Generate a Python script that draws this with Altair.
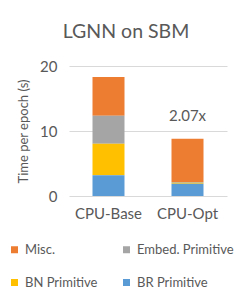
import altair as alt
import pandas as pd

configs = ["CPU-Base", "CPU-Opt"]
components = ["Misc.", "Embed. Primitive", "BN Primitive", "BR Primitive"]
colors = ["#ED7D31", "#A5A5A5", "#FFC000", "#5B9BD5"]
stack_rank = [3, 2, 1, 0]  # BR at bottom
base_values = [5.95, 4.3, 4.85, 3.2]
opt_values = [6.65, 0.15, 0.15, 1.87]
speedup_label = ["2.07x"]
speedup_pos = [12.3]

rows = []
for cfg, vals in zip(configs, [base_values, opt_values]):
    for comp, v, r in zip(components, vals, stack_rank):
        rows.append({"config": cfg, "component": comp, "time": v, "rank": r})
df = pd.DataFrame(rows)
ann = pd.DataFrame({"config": [configs[1]], "label": speedup_label, "y": speedup_pos})

FONT = "Lato"
GREY = "#595959"

bars = alt.Chart(df).mark_bar().encode(
    x=alt.X("config:N", sort=configs, title=None,
            scale=alt.Scale(paddingInner=0.595, paddingOuter=0.2975),
            axis=alt.Axis(labelAngle=0, domain=False, ticks=False, labelPadding=10,
                          labelFontSize=15, labelColor=GREY, labelFont=FONT)),
    y=alt.Y("time:Q", stack="zero", title="Time per epoch (s)",
            scale=alt.Scale(domain=[0, 20], nice=False),
            axis=alt.Axis(values=[0, 5, 10, 15, 20], domain=False, ticks=False,
                          labelPadding=12, labelFontSize=15, labelColor=GREY,
                          labelFont=FONT, gridColor="#D9D9D9", titleFont=FONT,
                          titleFontSize=13, titleColor=GREY, titleFontWeight="normal",
                          titleX=-46, titleY=65, titleBaseline="middle")),
    color=alt.Color("component:N",
                    scale=alt.Scale(domain=components, range=colors),
                    legend=alt.Legend(title=None, orient="none", legendX=-61, legendY=177,
                                      columns=2, direction="horizontal",
                                      symbolType="square", symbolSize=49,
                                      symbolStrokeWidth=0, labelFontSize=13,
                                      labelColor=GREY, labelFont=FONT, columnPadding=22,
                                      rowPadding=19, labelLimit=200, labelOffset=4)),
    order=alt.Order("rank:Q", sort="ascending"),
)

text = alt.Chart(ann).mark_text(fontSize=15, font=FONT, color=GREY).encode(
    x=alt.X("config:N", sort=configs),
    y=alt.Y("y:Q"),
    text="label:N",
)

chart = alt.layer(bars, text).properties(
    width=158, height=130,
    padding={"left": 61, "top": 58, "right": 9, "bottom": 100},
    autosize=alt.AutoSizeParams(type="none"),
    title=alt.TitleParams("LGNN on SBM", font=FONT, fontSize=19.5, color=GREY,
                          fontWeight="normal", anchor="middle", dx=-22, offset=17),
).configure_view(stroke=None)

chart.save("out.html", embed_options={"renderer": "svg", "actions": False})
